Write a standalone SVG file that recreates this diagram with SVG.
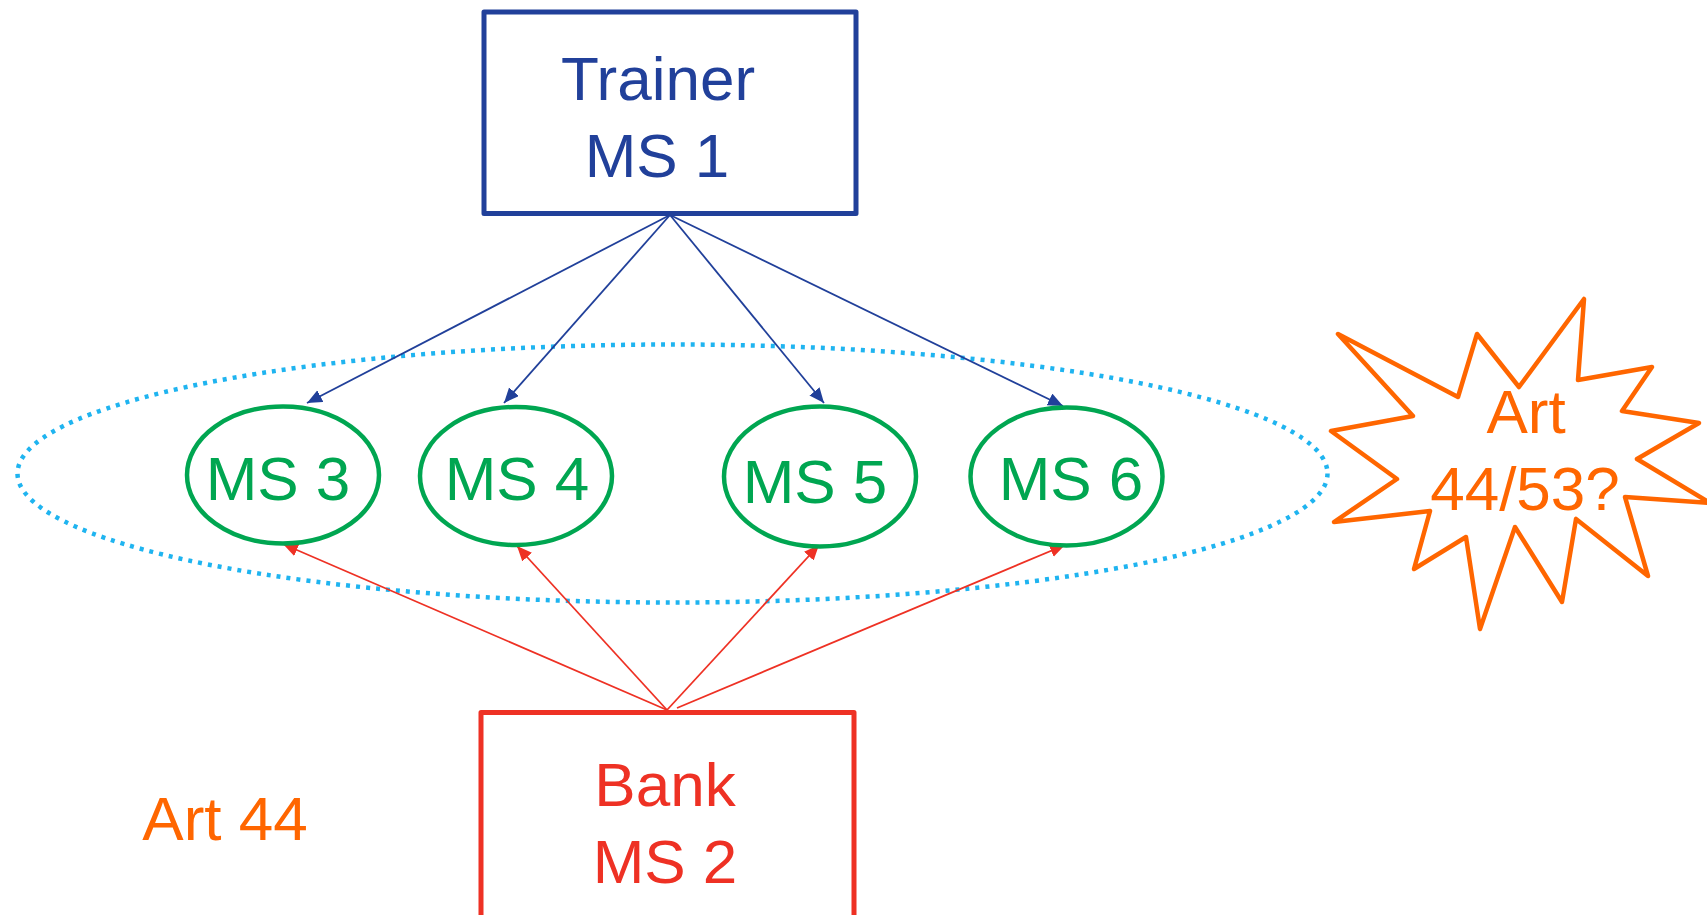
<svg xmlns="http://www.w3.org/2000/svg" width="1707" height="915" viewBox="0 0 1707 915">
  <style>
    text { font-family: "Liberation Sans", Arial, sans-serif; font-size: 62px; text-anchor: middle; }
    .box { fill: #ffffff; stroke-width: 5; stroke-linejoin: round; }
    .ms { fill: #ffffff; stroke: #00a651; stroke-width: 4.5; }
    .ms-label { fill: #00a651; }
    .blue { stroke: #21409a; stroke-width: 1.8; fill: none; }
    .red { stroke: #ee3124; stroke-width: 1.8; fill: none; }
    .orange { fill: #ff6600; }
  </style>
  <defs>
    <marker id="arrow-blue" markerUnits="userSpaceOnUse" markerWidth="16" markerHeight="14" refX="15" refY="6.5" orient="auto">
      <path d="M0,0 L15,6.5 L0,13 Z" fill="#21409a"/>
    </marker>
    <marker id="arrow-red" markerUnits="userSpaceOnUse" markerWidth="16" markerHeight="14" refX="15" refY="6.5" orient="auto">
      <path d="M0,0 L15,6.5 L0,13 Z" fill="#ee3124"/>
    </marker>
  </defs>

  <rect width="1707" height="915" fill="#ffffff"/>

  <!-- dotted grouping of the member states -->
  <g id="group-ellipse">
    <ellipse cx="672.5" cy="473.5" rx="655" ry="129" fill="none" stroke="#1fb4f0" stroke-width="4.5" stroke-dasharray="4 6"/>
  </g>

  <!-- connectors -->
  <g id="connectors">
    <line class="blue" x1="670" y1="215" x2="307" y2="403" marker-end="url(#arrow-blue)"/>
    <line class="blue" x1="670" y1="215" x2="504" y2="403" marker-end="url(#arrow-blue)"/>
    <line class="blue" x1="670" y1="215" x2="824" y2="403" marker-end="url(#arrow-blue)"/>
    <line class="blue" x1="670" y1="215" x2="1063" y2="406" marker-end="url(#arrow-blue)"/>
    <line class="red" x1="667" y1="710" x2="283" y2="544" marker-end="url(#arrow-red)"/>
    <line class="red" x1="667" y1="710" x2="517" y2="546" marker-end="url(#arrow-red)"/>
    <line class="red" x1="667" y1="710" x2="819" y2="545" marker-end="url(#arrow-red)"/>
    <line class="red" x1="677" y1="708" x2="1065" y2="545" marker-end="url(#arrow-red)"/>
  </g>

  <g id="trainer">
    <rect class="box" x="484" y="12" width="372" height="201.5" stroke="#21409a"/>
    <text x="658" y="100" fill="#21409a">Trainer</text>
    <text x="657" y="177" fill="#21409a">MS 1</text>
  </g>

  <g id="bank">
    <rect class="box" x="481" y="712.5" width="373" height="215" stroke="#ee3124"/>
    <text x="665" y="806" fill="#ee3124">Bank</text>
    <text x="665" y="883" fill="#ee3124">MS 2</text>
  </g>

  <g id="ms3">
    <ellipse class="ms" cx="283" cy="475" rx="96" ry="68.5"/>
    <text class="ms-label" x="278" y="500">MS 3</text>
  </g>
  <g id="ms4">
    <ellipse class="ms" cx="516" cy="476" rx="96" ry="69"/>
    <text class="ms-label" x="517" y="500">MS 4</text>
  </g>
  <g id="ms5">
    <ellipse class="ms" cx="820" cy="476.5" rx="96" ry="70"/>
    <text class="ms-label" x="815" y="503">MS 5</text>
  </g>
  <g id="ms6">
    <ellipse class="ms" cx="1066.5" cy="476.5" rx="96" ry="69"/>
    <text class="ms-label" x="1071" y="500">MS 6</text>
  </g>

  <g id="art44">
    <text class="orange" x="225" y="840">Art 44</text>
  </g>

  <g id="art44-53-burst">
    <polygon points="1338,334 1458,397 1477,334 1519,387 1584,299 1578,380 1652,367 1622,411 1699,423 1637,459 1710,503 1625,497 1648,576 1576,519 1562,602 1515,527 1480,629 1466,537 1414,569 1430,511 1334,522 1397,479 1331,431 1413,416" fill="#ffffff" stroke="#ff6600" stroke-width="4.5" stroke-linejoin="round"/>
    <text class="orange" x="1526" y="433">Art</text>
    <text class="orange" x="1525" y="510">44/53?</text>
  </g>
</svg>
